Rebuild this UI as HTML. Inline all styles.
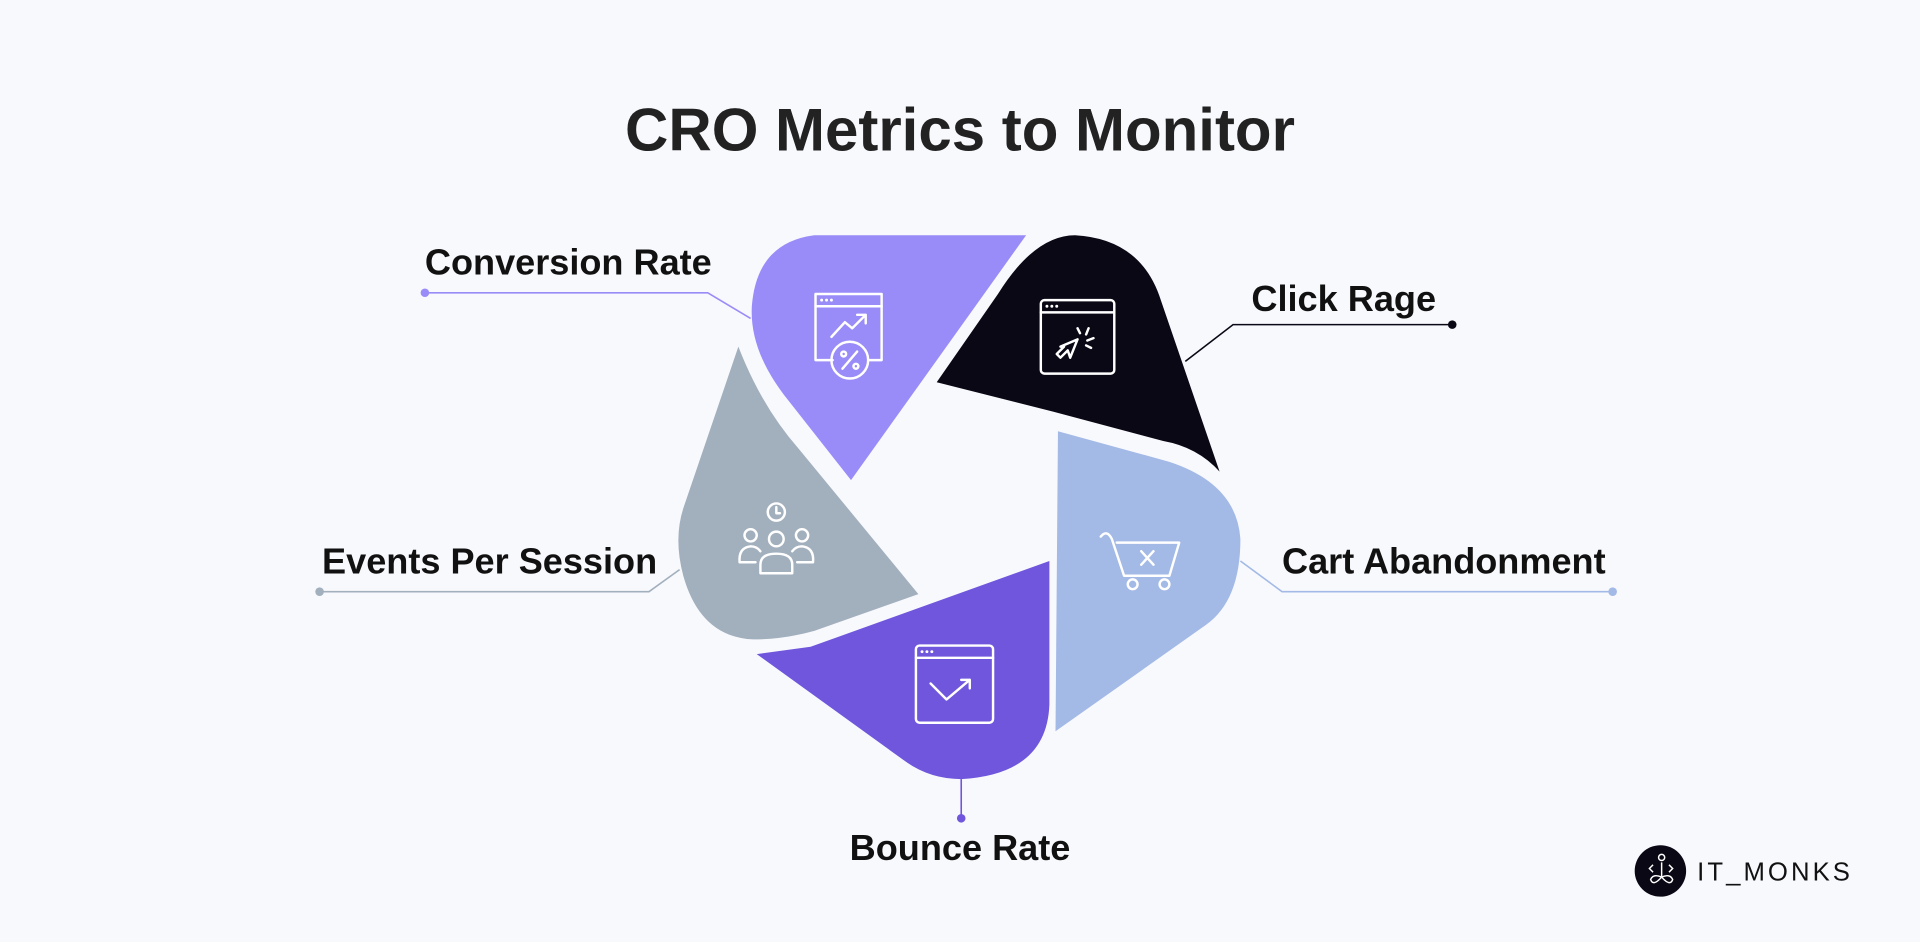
<!DOCTYPE html>
<html><head><meta charset="utf-8"><style>
html,body{margin:0;padding:0;background:#f8f9fd;}
svg{display:block;}
text{font-family:"Liberation Sans",sans-serif;}
</style></head><body>
<svg width="1920" height="942" viewBox="0 0 1568 769" preserveAspectRatio="none">
<rect width="1568" height="769" fill="#f8f9fd"/>
<text x="784" y="123" text-anchor="middle" font-size="49" font-weight="bold" fill="#222">CRO Metrics to Monitor</text>

<g>
<path d="M665,192 L838,192 L695,392 L640,322 Q612,285 614,250 Q618,198 665,192 Z" fill="#998cf8"/>
<g fill="none" stroke="#fff" stroke-width="2" stroke-linecap="round" stroke-linejoin="round">
<path d="M680,294 L666,294 L666,240 L720,240 L720,294 L709,294"/><line x1="666" y1="250" x2="720" y2="250"/>
<path d="M679,275 L690,263 L696,268 L707,257 M700,257 L707,257 L707,264"/>
<circle cx="694" cy="294" r="15"/><line x1="688" y1="301" x2="700" y2="287"/>
<circle cx="689" cy="289" r="2"/><circle cx="699" cy="299" r="2"/>
</g><g fill="#fff"><circle cx="671" cy="245" r="1.2"/><circle cx="675" cy="245" r="1.2"/><circle cx="679" cy="245" r="1.2"/></g>
</g>

<g>
<path d="M765,312 L815,240 Q845,192 878,192 Q932,195 948,245 L996,385 Q978,365 950,360 L860,336 Z" fill="#0a0814"/>
<g fill="none" stroke="#fff" stroke-width="2" stroke-linecap="round" stroke-linejoin="round">
<rect x="850" y="245" width="60" height="60" rx="3"/><line x1="850" y1="255" x2="910" y2="255"/>
<path d="M866,283 L880,277 L874,292 L872,286 L866,292 L863,289 L869,283 Z"/>
<path d="M880,268 L882,272 M889,268 L887,273 M893,276 L888,278 M891,284 L887,282"/>
</g><g fill="#fff"><circle cx="855" cy="250" r="1.2"/><circle cx="859" cy="250" r="1.2"/><circle cx="863" cy="250" r="1.2"/></g>
</g>

<g>
<path d="M864,352 L955,377 Q1010,395 1013,440 Q1013,490 985,510 L862,597 Z" fill="#a3b9e6"/>
<g fill="none" stroke="#fff" stroke-width="2" stroke-linecap="round" stroke-linejoin="round">
<path d="M899,438 Q904,432 908,440 L918,470 L955,470 L963,443 L912,443"/>
<circle cx="925" cy="477" r="4"/><circle cx="951" cy="477" r="4"/>
<path d="M932,450 L942,461 M942,450 L932,461"/>
</g>
</g>

<g>
<path d="M857,458 L857,575 Q855,632 785,636 Q760,636 740,622 L618,534 L662,528 Z" fill="#6f56dc"/>
<g fill="none" stroke="#fff" stroke-width="2" stroke-linecap="round" stroke-linejoin="round">
<rect x="748" y="527" width="63" height="63" rx="3"/><line x1="748" y1="537" x2="811" y2="537"/>
<path d="M760,558 L773,571 L792,555 M785,555 L792,555 L792,562"/>
</g><g fill="#fff"><circle cx="753" cy="532" r="1.2"/><circle cx="757" cy="532" r="1.2"/><circle cx="761" cy="532" r="1.2"/></g>
</g>

<g>
<path d="M603,283 Q622,332 652,366 L750,485 L665,515 Q640,522 615,522 Q572,520 558,470 Q550,440 558,415 Z" fill="#a2afbd"/>
<g fill="none" stroke="#fff" stroke-width="2" stroke-linecap="round" stroke-linejoin="round">
<circle cx="634" cy="418" r="7"/><path d="M634,414 L634,419 L637,419"/>
<circle cx="634" cy="440" r="6"/><circle cx="613" cy="437" r="5"/><circle cx="655" cy="437" r="5"/>
<path d="M621,468 L621,461 Q621,452 634,452 Q647,452 647,461 L647,468 Z"/>
<path d="M617,459 L604,459 Q603,447 613,446 Q618,446 621,450"/>
<path d="M651,459 L664,459 Q665,447 655,446 Q650,446 647,450"/>
</g>
</g>

<polyline points="347,239 578,239 613,260" fill="none" stroke="#998cf8" stroke-width="1.3"/>
<circle cx="347" cy="239" r="3.5" fill="#998cf8"/>
<text x="347" y="224" font-size="29.5" font-weight="bold" fill="#111">Conversion Rate</text>

<polyline points="968,295 1007,265 1186,265" fill="none" stroke="#0a0814" stroke-width="1.3"/>
<circle cx="1186" cy="265" r="3.5" fill="#0a0814"/>
<text x="1022" y="254" font-size="29.5" font-weight="bold" fill="#111">Click Rage</text>

<polyline points="1013,458 1047,483 1317,483" fill="none" stroke="#a3b9e6" stroke-width="1.3"/>
<circle cx="1317" cy="483" r="3.5" fill="#a3b9e6"/>
<text x="1047" y="468" font-size="29.5" font-weight="bold" fill="#111">Cart Abandonment</text>

<line x1="785" y1="636" x2="785" y2="668" stroke="#6f56dc" stroke-width="1.3"/>
<circle cx="785" cy="668" r="3.5" fill="#6f56dc"/>
<text x="784" y="702" text-anchor="middle" font-size="29.5" font-weight="bold" fill="#111">Bounce Rate</text>

<polyline points="555,465 530,483 261,483" fill="none" stroke="#a2afbd" stroke-width="1.3"/>
<circle cx="261" cy="483" r="3.5" fill="#a2afbd"/>
<text x="263" y="468" font-size="29.5" font-weight="bold" fill="#111">Events Per Session</text>

<g>
<circle cx="1356" cy="711" r="21" fill="#0a0814"/>
<g fill="none" stroke="#fff" stroke-width="1.2"><circle cx="1357" cy="700" r="2.5"/><path d="M1357,704 L1357,716 Q1350,724 1348,718 Q1350,713 1357,716 Q1364,713 1366,718 Q1364,724 1357,716 M1350,706 L1347,709 L1350,712 M1363,706 L1366,709 L1363,712"/></g>
<text x="1386" y="719" font-size="21" fill="#111" letter-spacing="2.5">IT_MONKS</text>
</g>
</svg>
</body></html>
